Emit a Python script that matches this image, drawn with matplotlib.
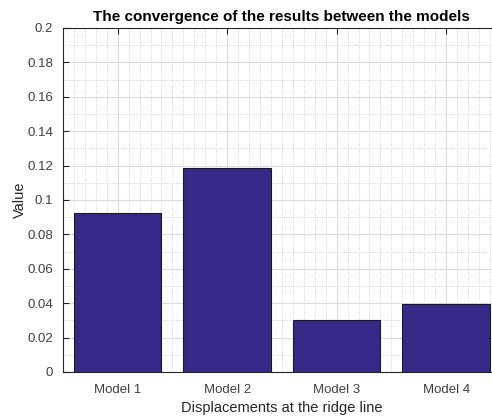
import matplotlib.pyplot as plt
from matplotlib.ticker import MultipleLocator

# Dati del grafico
modelli = ['Model 1', 'Model 2', 'Model 3', 'Model 4']
valori = [0.0926, 0.1188, 0.0302, 0.0395]
tick_y = [0, 0.02, 0.04, 0.06, 0.08, 0.1, 0.12, 0.14, 0.16, 0.18, 0.2]
etichette_y = ['0', '0.02', '0.04', '0.06', '0.08', '0.1', '0.12',
               '0.14', '0.16', '0.18', '0.2']

plt.rcParams['font.family'] = ['Liberation Sans', 'DejaVu Sans']

fig = plt.figure(figsize=(4.92, 4.17), dpi=100)
ax = fig.add_axes([0.128, 0.108, 0.890, 0.825])

posizioni = list(range(1, len(modelli) + 1))
ax.bar(posizioni, valori, width=0.8, color='#352a87', edgecolor='#1a1a1a',
       linewidth=0.8, zorder=3)

ax.set_xlim(0.5, 4.5)
ax.set_ylim(0, 0.2)
ax.set_xticks(posizioni)
ax.set_xticklabels(modelli)
ax.set_yticks(tick_y)
ax.set_yticklabels(etichette_y)
ax.yaxis.set_minor_locator(MultipleLocator(0.01))
ax.xaxis.set_minor_locator(MultipleLocator(0.1))

# Griglia principale e secondaria in stile MATLAB
ax.grid(True, which='major', color='#dcdcdc', linewidth=0.8, zorder=0)
ax.grid(True, which='minor', color='#c8c8c8', linestyle=':', linewidth=0.6, zorder=0)
ax.set_axisbelow(True)

ax.tick_params(which='major', direction='in', length=4, width=0.8,
               color='#262626', labelcolor='#404040', labelsize=9.5,
               top=True, right=True)
ax.tick_params(axis='x', which='major', pad=9)
ax.tick_params(axis='y', which='major', pad=7)
ax.tick_params(which='minor', length=0)
for s in ax.spines.values():
    s.set_color('#262626')
    s.set_linewidth(0.8)

ax.set_xlabel('Displacements at the ridge line', fontsize=10.5, color='#262626',
              labelpad=3)
ax.set_ylabel('Value', fontsize=10.5, color='#262626', labelpad=0)
ax.set_title('The convergence of the results between the models', fontsize=11,
             fontweight='bold', color='#000000', pad=5)

fig.savefig('out.png', dpi=100)
